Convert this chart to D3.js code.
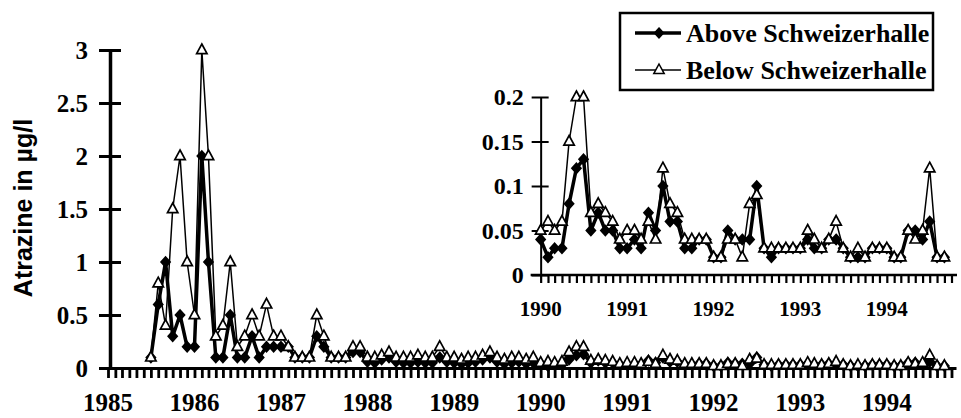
<!DOCTYPE html>
<html>
<head>
<meta charset="utf-8">
<script src="https://d3js.org/d3.v7.min.js"></script>
<style>
  body { margin:0; background:#fff; }
  svg text { font-family: "Liberation Serif", "Times New Roman", serif; font-weight: bold; fill:#000; }
  svg .ylabel { font-family: "Liberation Sans", Arial, sans-serif; }
</style>
</head>
<body>
<script>
// monthly samples, first one is July 1985
const firstMonth = "1985-07";
const below = [
  0.1, 0.8, 0.4, 1.5, 2.0, 1.0,                                   // 1985
  0.5, 3.0, 2.0, 0.3, 0.4, 1.0, 0.2, 0.3, 0.5, 0.3, 0.6, 0.3,     // 1986
  0.3, 0.2, 0.1, 0.1, 0.1, 0.5, 0.3, 0.1, 0.1, 0.1, 0.2, 0.2,     // 1987
  0.1, 0.1, 0.12, 0.15, 0.1, 0.1, 0.1, 0.12, 0.1, 0.1, 0.2, 0.1,  // 1988
  0.1, 0.08, 0.1, 0.1, 0.12, 0.15, 0.1, 0.08, 0.1, 0.1, 0.08, 0.1, // 1989
  0.05, 0.06, 0.05, 0.06, 0.15, 0.2, 0.2, 0.07, 0.08, 0.07, 0.06, 0.04, // 1990
  0.05, 0.05, 0.04, 0.06, 0.04, 0.12, 0.08, 0.07, 0.04, 0.04, 0.04, 0.04, // 1991
  0.02, 0.02, 0.04, 0.04, 0.02, 0.08, 0.09, 0.03, 0.03, 0.03, 0.03, 0.03, // 1992
  0.03, 0.05, 0.04, 0.03, 0.04, 0.06, 0.03, 0.02, 0.03, 0.02, 0.03, 0.03, // 1993
  0.03, 0.02, 0.02, 0.05, 0.04, 0.05, 0.12, 0.02, 0.02              // 1994
];
const above = [
  0.1, 0.6, 1.0, 0.3, 0.5, 0.2,
  0.2, 2.0, 1.0, 0.1, 0.1, 0.5, 0.1, 0.1, 0.3, 0.1, 0.2, 0.2,
  0.2, 0.2, 0.1, 0.1, 0.1, 0.3, 0.2, 0.1, 0.1, 0.1, 0.15, 0.15,
  0.06, 0.05, 0.08, 0.1, 0.06, 0.05, 0.05, 0.06, 0.05, 0.05, 0.1, 0.06,
  0.05, 0.04, 0.05, 0.06, 0.08, 0.1, 0.06, 0.04, 0.05, 0.06, 0.04, 0.05,
  0.04, 0.02, 0.03, 0.03, 0.08, 0.12, 0.13, 0.05, 0.07, 0.05, 0.05, 0.03,
  0.03, 0.04, 0.03, 0.07, 0.05, 0.1, 0.06, 0.06, 0.03, 0.03, 0.04, 0.04,
  0.02, 0.02, 0.05, 0.04, 0.04, 0.04, 0.1, 0.03, 0.02, 0.03, 0.03, 0.03,
  0.03, 0.04, 0.03, 0.03, 0.04, 0.04, 0.03, 0.02, 0.02, 0.02, 0.03, 0.03,
  0.03, 0.02, 0.02, 0.05, 0.05, 0.04, 0.06, 0.02, 0.02
];
const mainYTicks = [0, 0.5, 1, 1.5, 2, 2.5, 3];
const insetYTicks = [0, 0.05, 0.1, 0.15, 0.2];
const yearLabels = [1985, 1986, 1987, 1988, 1989, 1990, 1991, 1992, 1993, 1994];
const insetYears = [1990, 1991, 1992, 1993, 1994];
const seriesNames = ["Above Schweizerhalle", "Below Schweizerhalle"];
const yTitle = "Atrazine in µg/l";

var parse = d3.timeParse("%Y-%m");
var t0 = parse(firstMonth);
var data = below.map(function (b, i) {
  return { date: d3.timeMonth.offset(t0, i), below: b, above: above[i] };
});
var insetData = data.filter(function (d) { return d.date >= new Date(1990, 0, 1); });

var svg = d3.select("body").append("svg")
  .attr("width", 961)
  .attr("height", 418);

var x = d3.scaleTime()
  .domain([new Date(1985, 0, 1), new Date(1994, 9, 20)])
  .range([108, 956]);
var y = d3.scaleLinear().domain([0, 3]).range([368, 50]);
var yi = d3.scaleLinear().domain([0, 0.2]).range([275, 97]);

var diamond = "M0,-5L4.5,0L0,5L-4.5,0Z";
var triangle = "M0,-6L5.2,3.6L-5.2,3.6Z";

function drawSeries(g, rows, ys, key, thick, shape, fill) {
  var line = d3.line()
    .x(function (d) { return x(d.date); })
    .y(function (d) { return ys(d[key]); });
  g.append("path")
    .datum(rows)
    .attr("d", line)
    .attr("fill", "none")
    .attr("stroke", "#000")
    .attr("stroke-width", thick)
    .attr("stroke-linejoin", "round");
  g.selectAll(null)
    .data(rows)
    .enter()
    .append("path")
    .attr("d", shape)
    .attr("transform", function (d) { return "translate(" + x(d.date) + "," + ys(d[key]) + ")"; })
    .attr("fill", fill)
    .attr("stroke", "#000")
    .attr("stroke-width", 1.7);
}

// ---- main chart ----
var xAxis = svg.append("g")
  .attr("transform", "translate(0,368)")
  .call(d3.axisBottom(x)
    .ticks(d3.timeMonth.every(1))
    .tickSize(10)
    .tickSizeOuter(0)
    .tickFormat(""));
xAxis.select(".domain").attr("stroke-width", 3);
xAxis.selectAll(".tick line").attr("stroke-width", 2.8);

svg.append("g")
  .selectAll("text")
  .data(yearLabels)
  .enter()
  .append("text")
  .attr("x", function (d) { return x(new Date(d, 0, 1)); })
  .attr("y", 411)
  .attr("text-anchor", "middle")
  .style("font-size", "25px")
  .text(function (d) { return d; });

var yAxis = svg.append("g")
  .attr("transform", "translate(110,0)")
  .call(d3.axisLeft(y).tickValues(mainYTicks).tickSize(11).tickSizeOuter(0)
    .tickFormat(function (d) { return d; }));
yAxis.select(".domain").attr("stroke-width", 3.5);
yAxis.selectAll(".tick line").attr("x2", -11).attr("x1", 11).attr("stroke-width", 3);
yAxis.selectAll(".tick text")
  .attr("x", -22)
  .style("font-size", "25px")
  .style("font-family", "'Liberation Serif', serif")
  .style("font-weight", "bold");

svg.append("text")
  .attr("class", "ylabel")
  .attr("transform", "translate(32,208) rotate(-90)")
  .attr("text-anchor", "middle")
  .style("font-size", "25px")
  .text(yTitle);

var main = svg.append("g");
drawSeries(main, data, y, "above", 3.5, diamond, "#000");
drawSeries(main, data, y, "below", 1.5, triangle, "#fff");

// ---- inset ----
var ixAxis = svg.append("g")
  .attr("transform", "translate(0,275)")
  .call(d3.axisBottom(x)
    .tickValues(d3.timeMonth.range(new Date(1990, 0, 1), new Date(1994, 10, 1)))
    .tickSize(8)
    .tickFormat(""));
ixAxis.select(".domain").remove();
ixAxis.selectAll(".tick line").attr("stroke-width", 2.2);
ixAxis.append("line")
  .attr("x1", x(new Date(1990, 0, 1)) - 10)
  .attr("x2", 957)
  .attr("stroke", "#000")
  .attr("stroke-width", 2.5);

svg.append("g")
  .selectAll("text")
  .data(insetYears)
  .enter()
  .append("text")
  .attr("x", function (d) { return x(new Date(d, 0, 1)); })
  .attr("y", 316)
  .attr("text-anchor", "middle")
  .style("font-size", "21px")
  .text(function (d) { return d; });

var iyAxis = svg.append("g")
  .attr("transform", "translate(" + x(new Date(1990, 0, 1)) + ",0)")
  .call(d3.axisLeft(yi).tickValues(insetYTicks).tickSize(9).tickSizeOuter(0)
    .tickFormat(function (d) { return d; }));
iyAxis.select(".domain").attr("stroke-width", 2);
iyAxis.selectAll(".tick line").attr("x1", 8).attr("x2", -9).attr("stroke-width", 2);
iyAxis.selectAll(".tick text")
  .attr("x", -17)
  .style("font-size", "24px")
  .style("font-family", "'Liberation Serif', serif")
  .style("font-weight", "bold");

var inset = svg.append("g");
drawSeries(inset, insetData, yi, "above", 3.5, diamond, "#000");
drawSeries(inset, insetData, yi, "below", 1.5, triangle, "#fff");

// ---- legend ----
var legend = svg.append("g");
legend.append("rect")
  .attr("x", 620).attr("y", 13)
  .attr("width", 313).attr("height", 77)
  .attr("fill", "#fff")
  .attr("stroke", "#000")
  .attr("stroke-width", 2.5);

var legendRows = [
  { name: seriesNames[0], y: 33, w: 3.5, shape: diamond, fill: "#000" },
  { name: seriesNames[1], y: 70, w: 1.5, shape: triangle, fill: "#fff" }
];
legendRows.forEach(function (r) {
  legend.append("line")
    .attr("x1", 635).attr("x2", 681)
    .attr("y1", r.y).attr("y2", r.y)
    .attr("stroke", "#000")
    .attr("stroke-width", r.w);
  legend.append("path")
    .attr("d", r.shape)
    .attr("transform", "translate(659," + r.y + ")")
    .attr("fill", r.fill)
    .attr("stroke", "#000")
    .attr("stroke-width", 1.5);
  legend.append("text")
    .attr("x", 686)
    .attr("y", r.y + 9)
    .style("font-size", "26px")
    .text(r.name);
});
</script>
</body>
</html>
